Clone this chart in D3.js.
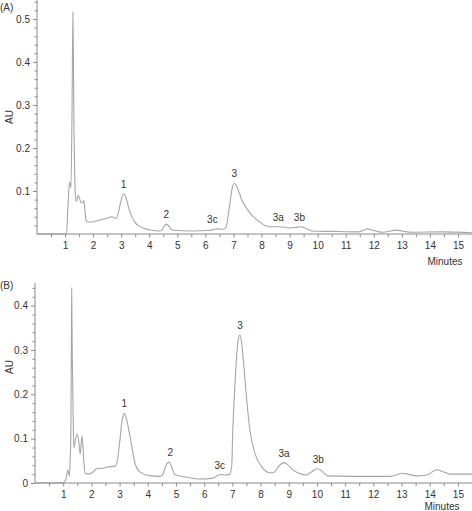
<!DOCTYPE html>
<html><head><meta charset="utf-8">
<script src="https://cdn.jsdelivr.net/npm/d3@7"></script>
<style>
body{margin:0;background:#fff;}
text{font-family:"Liberation Sans",Arial,Helvetica,sans-serif;fill:#333;}
</style></head>
<body><svg id="c" width="472" height="511"></svg>
<script>
// Panel A chromatogram (minutes, AU)
const timeA = [0,1.00,1.05,1.10,1.16,1.21,1.25,1.28,1.31,1.36,1.40,1.47,1.53,1.58,1.64,1.67,1.70,1.75,1.80,1.96,2.2,2.46,2.67,2.81,2.90,3.0,3.08,3.15,3.28,3.46,3.74,4.0,4.35,4.45,4.52,4.61,4.70,4.80,4.95,5.5,6.13,6.30,6.45,6.63,6.73,6.85,6.95,7.03,7.12,7.30,7.55,7.91,8.27,8.62,8.98,9.2,9.39,9.55,9.80,10.51,11.47,11.76,11.9,12.29,12.83,13.0,13.36,14.43,15.5];
const auA   = [0,0,0,0.06,0.121,0.107,0.3,0.516,0.3,0.1,0.075,0.09,0.08,0.072,0.074,0.078,0.06,0.032,0.028,0.028,0.032,0.036,0.04,0.036,0.05,0.08,0.093,0.088,0.058,0.03,0.015,0.010,0.007,0.009,0.017,0.023,0.018,0.010,0.008,0.007,0.008,0.011,0.012,0.011,0.015,0.06,0.105,0.118,0.11,0.079,0.052,0.029,0.017,0.017,0.014,0.015,0.017,0.014,0.007,0.006,0.005,0.012,0.010,0.004,0.009,0.007,0.004,0.005,0.003];
// Panel B chromatogram
const timeB = [0,0.99,1.10,1.16,1.22,1.25,1.27,1.29,1.30,1.32,1.36,1.38,1.44,1.50,1.56,1.60,1.64,1.67,1.72,1.78,1.89,2.0,2.19,2.45,2.66,2.84,2.92,3.0,3.10,3.17,3.24,3.37,3.55,3.72,4.08,4.43,4.54,4.65,4.76,4.85,4.96,5.39,5.85,6.31,6.45,6.56,6.75,6.91,6.98,7.01,7.10,7.20,7.27,7.34,7.41,7.51,7.62,7.80,8.04,8.33,8.50,8.65,8.83,8.95,9.16,9.45,9.63,9.80,9.99,10.15,10.39,11.17,12.59,12.8,13.0,13.2,13.55,13.9,14.24,14.45,14.72,15.5];
const auB   = [0,0,0.01,0.029,0.016,0.06,0.097,0.3,0.44,0.3,0.12,0.079,0.1,0.11,0.09,0.065,0.09,0.106,0.06,0.022,0.02,0.022,0.032,0.034,0.037,0.038,0.05,0.09,0.145,0.157,0.145,0.105,0.044,0.025,0.016,0.015,0.02,0.04,0.047,0.035,0.019,0.013,0.009,0.011,0.016,0.019,0.018,0.02,0.04,0.11,0.23,0.32,0.334,0.31,0.262,0.187,0.12,0.067,0.037,0.023,0.025,0.038,0.046,0.042,0.029,0.02,0.018,0.025,0.032,0.028,0.016,0.015,0.015,0.018,0.022,0.02,0.016,0.018,0.03,0.026,0.02,0.02];
// Peak labels
const peakNames = ["1","2","3c","3","3a","3b"];
const peakTimeA = [3.08,4.61,6.25,7.03,8.6,9.35];
const peakAUA   = [0.093,0.023,0.012,0.118,0.017,0.017];
const peakTimeB = [3.17,4.80,6.55,7.27,8.83,10.05];
const peakAUB   = [0.157,0.047,0.019,0.334,0.046,0.032];
const xTicks = [1,2,3,4,5,6,7,8,9,10,11,12,13,14,15];

const svg = d3.select("#c");
const axisCol = "#8a8a8a", lineCol = "#a6a6a6";

function panel(o){
  const g = svg.append("g");
  const x = d3.scaleLinear().domain([0,15.5]).range([o.x0, o.x1]);
  const y = d3.scaleLinear().domain([0,o.ymax]).range([o.y0, o.y1]);
  // trace
  const pts = o.t.map((t,i)=>[t,o.v[i]]);
  g.append("path").datum(pts)
    .attr("fill","none").attr("stroke",lineCol).attr("stroke-width",1.1)
    .attr("d", d3.line().x(d=>x(d[0])).y(d=>y(d[1])).curve(d3.curveMonotoneX));
  // x axis
  const xMinor = d3.range(0.5,15.5,1);
  const xa = g.append("g").attr("transform",`translate(0,${o.y0})`);
  xa.call(d3.axisBottom(x).tickValues(xMinor).tickSize(3).tickFormat(""));
  const xb = g.append("g").attr("transform",`translate(0,${o.y0})`);
  xb.call(d3.axisBottom(x).tickValues(xTicks).tickSize(3.5).tickPadding(4).tickFormat(d3.format("d")));
  // y axis
  const yMinor = d3.range(0.02,o.ymax,0.02).filter(v=>Math.abs(v*10-Math.round(v*10))>1e-6);
  const ya = g.append("g").attr("transform",`translate(${o.x0},0)`);
  ya.call(d3.axisLeft(y).tickValues(yMinor).tickSize(2.5).tickFormat(""));
  const yb = g.append("g").attr("transform",`translate(${o.x0},0)`);
  yb.call(d3.axisLeft(y).tickValues(o.yTicks).tickSize(4).tickPadding(3).tickFormat(d=>d===0?"0":d3.format(".1f")(d)));
  [xa,xb,ya,yb].forEach(a=>{
    a.selectAll("path").attr("stroke",axisCol);
    a.selectAll("line").attr("stroke",axisCol);
    a.selectAll("text").attr("font-size",10).attr("fill","#333").attr("font-family",null);
  });
  xb.select("path").remove(); yb.select("path").remove();
  ya.select("path").attr("d",`M0,${o.y0}V${o.y1}`);
  xa.select("path").attr("d",`M${o.x0},0H${o.x1}`);
  // labels
  g.append("text").attr("x",0).attr("y",o.tagY).attr("font-size",10).text(o.tag);
  g.append("text").attr("transform",`translate(13,${o.auY}) rotate(-90)`).attr("text-anchor","middle").attr("font-size",10).text("AU");
  g.append("text").attr("x",o.minX).attr("y",o.minY).attr("text-anchor","middle").attr("font-size",10).text("Minutes");
  g.selectAll("text.pk").data(peakNames).enter().append("text").attr("class","pk")
    .attr("x",(d,i)=>x(o.pt[i])).attr("y",(d,i)=>y(o.pa[i])-6)
    .attr("text-anchor","middle").attr("font-size",10).text(d=>d);
}

panel({x0:37,x1:472,y0:234,y1:0,ymax:0.544,yTicks:[0.1,0.2,0.3,0.4,0.5],t:timeA,v:auA,
  pt:peakTimeA,pa:peakAUA,tag:"(A)",tagY:11,auY:117,minX:445,minY:265});
panel({x0:35,x1:472,y0:483,y1:283,ymax:0.451,yTicks:[0,0.1,0.2,0.3,0.4],t:timeB,v:auB,
  pt:peakTimeB,pa:peakAUB,tag:"(B)",tagY:289,auY:367,minX:442,minY:510});
</script></body></html>
